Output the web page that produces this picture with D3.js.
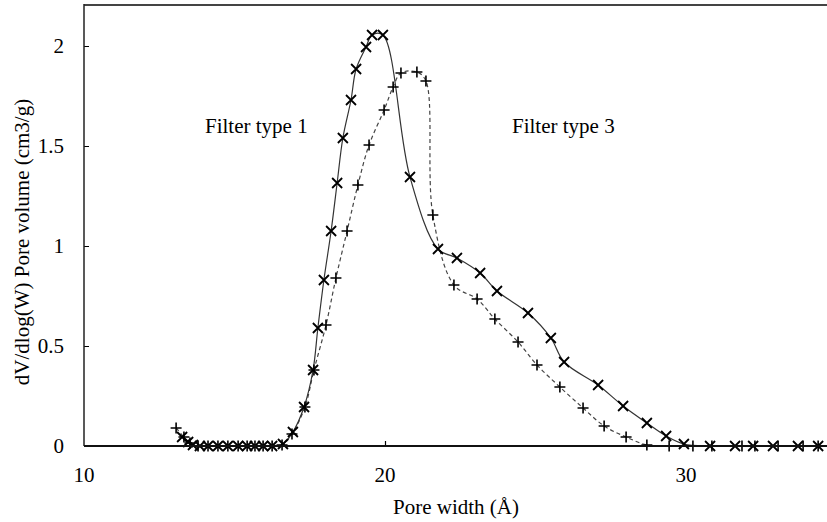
<!DOCTYPE html>
<html>
<head>
<meta charset="utf-8">
<script src="https://cdn.jsdelivr.net/npm/d3@7"></script>
<style>
  body { margin: 0; background: #fff; }
  text { font-family: "Liberation Serif", "Times New Roman", serif; fill: #000; }
</style>
</head>
<body>
<div id="chart"></div>
<script>
const WIDTH = 827;
const HEIGHT = 522;
const LEFT = 84, TOP = 5, RIGHT = 827, BOTTOM = 446;

// type 1 filter (x markers, solid line)
const type1X = [13.26, 13.46, 13.62, 13.85, 14.12, 14.45, 14.78, 15.12, 15.42, 15.68, 15.95, 16.25, 16.61, 16.94,
  17.31, 17.61, 17.77, 17.97, 18.21, 18.41, 18.60, 18.87, 19.04, 19.37, 19.57, 19.93, 20.83, 21.76, 22.39, 23.16,
  23.72, 24.75, 25.51, 25.95, 27.08, 27.91, 28.70, 29.34, 29.93, 30.80, 31.63, 32.23, 32.89, 33.72, 34.39];
const type1Y = [0.045, 0.02, 0.005, 0, 0, 0, 0, 0, 0, 0, 0, 0, 0.01, 0.07,
  0.195, 0.38, 0.59, 0.83, 1.075, 1.315, 1.54, 1.73, 1.885, 1.995, 2.055, 2.055, 1.345, 0.985, 0.94, 0.865,
  0.775, 0.665, 0.54, 0.42, 0.305, 0.2, 0.115, 0.05, 0.01, 0, 0, 0, 0, 0, 0];

// type 3 filter (+ markers, dashed line)
const type3X = [13.06, 13.32, 13.52, 13.79, 14.12, 14.45, 14.78, 15.12, 15.42, 15.68, 15.95, 16.25, 16.58, 16.91,
  17.34, 17.64, 18.04, 18.37, 18.74, 19.10, 19.47, 19.97, 20.27, 20.53, 21.06, 21.36, 21.59, 22.29, 23.06, 23.65,
  24.42, 25.05, 25.81, 26.58, 27.28, 28.01, 28.70, 29.44, 30.23, 30.86, 31.86, 32.29, 33.06, 33.89, 34.39];
const type3Y = [0.09, 0.045, 0.015, 0, 0, 0, 0, 0, 0, 0, 0, 0, 0.005, 0.06,
  0.195, 0.38, 0.605, 0.84, 1.075, 1.305, 1.505, 1.68, 1.795, 1.865, 1.87, 1.825, 1.155, 0.805, 0.735, 0.635,
  0.52, 0.405, 0.295, 0.19, 0.10, 0.045, 0.005, 0, 0, 0, 0, 0, 0, 0, 0];

const xTicks = [10, 20, 30];
const yTicks = [0, 0.5, 1, 1.5, 2];

const svg = d3.select("#chart").append("svg")
  .attr("width", WIDTH)
  .attr("height", HEIGHT);

const x = d3.scaleLinear().domain([10, 20]).range([LEFT, LEFT + 301]);
const y = d3.scaleLinear().domain([0, 2]).range([BOTTOM, BOTTOM - 400]);

const type1 = type1X.map((d, i) => [d, type1Y[i]]);
const type3 = type3X.map((d, i) => [d, type3Y[i]]);

const line = d3.line()
  .x(d => x(d[0]))
  .y(d => y(d[1]))
  .curve(d3.curveCatmullRom.alpha(0.5));

// lines
svg.append("path")
  .attr("d", line(type3))
  .attr("fill", "none")
  .attr("stroke", "#444")
  .attr("stroke-width", 1.2)
  .attr("stroke-dasharray", "4,3");

svg.append("path")
  .attr("d", line(type1))
  .attr("fill", "none")
  .attr("stroke", "#333")
  .attr("stroke-width", 1.2);

// markers
const s = 5;
svg.append("g").selectAll("path")
  .data(type3)
  .enter()
  .append("path")
  .attr("d", d => `M${x(d[0]) - s - 0.5},${y(d[1])}h${2 * s + 1}M${x(d[0])},${y(d[1]) - s - 0.5}v${2 * s + 1}`)
  .attr("stroke", "#000")
  .attr("stroke-width", 1.6);

svg.append("g").selectAll("path")
  .data(type1)
  .enter()
  .append("path")
  .attr("d", d => `M${x(d[0]) - s},${y(d[1]) - s}l${2 * s},${2 * s}M${x(d[0]) - s},${y(d[1]) + s}l${2 * s},${-2 * s}`)
  .attr("stroke", "#000")
  .attr("stroke-width", 1.8);

// frame
svg.append("line")
  .attr("x1", LEFT).attr("x2", RIGHT)
  .attr("y1", TOP).attr("y2", TOP)
  .attr("stroke", "#444").attr("stroke-width", 2);

// axes
const yAxis = d3.axisRight(y).tickValues(yTicks).tickSize(5).tickFormat("");
svg.append("g")
  .attr("transform", `translate(${LEFT},0)`)
  .call(yAxis)
  .call(g => g.select(".domain").remove())
  .call(g => g.selectAll(".tick line").attr("stroke", "#000").attr("stroke-width", 1));

svg.append("line")
  .attr("x1", LEFT).attr("x2", LEFT)
  .attr("y1", TOP - 1).attr("y2", BOTTOM)
  .attr("stroke", "#222").attr("stroke-width", 1.5);

svg.append("g").selectAll("text")
  .data(yTicks)
  .enter()
  .append("text")
  .attr("x", LEFT - 20)
  .attr("y", d => y(d) + 7)
  .attr("text-anchor", "end")
  .attr("font-size", 21)
  .text(d => d);

const xAxis = d3.axisTop(x).tickValues([20]).tickSize(5).tickFormat("");
svg.append("g")
  .attr("transform", `translate(0,${BOTTOM})`)
  .call(xAxis)
  .call(g => g.select(".domain").remove())
  .call(g => g.selectAll(".tick line").attr("stroke", "#000").attr("stroke-width", 1.2));

svg.append("line")
  .attr("x1", LEFT).attr("x2", RIGHT)
  .attr("y1", BOTTOM).attr("y2", BOTTOM)
  .attr("stroke", "#111").attr("stroke-width", 2);

svg.append("g").selectAll("text")
  .data(xTicks)
  .enter()
  .append("text")
  .attr("x", d => x(d))
  .attr("y", BOTTOM + 36)
  .attr("text-anchor", "middle")
  .attr("font-size", 21)
  .text(d => d);

// titles
svg.append("text")
  .attr("x", 456)
  .attr("y", 514)
  .attr("text-anchor", "middle")
  .attr("font-size", 21)
  .text("Pore width (Å)");

svg.append("text")
  .attr("transform", "translate(29,242) rotate(-90)")
  .attr("text-anchor", "middle")
  .attr("font-size", 21)
  .text("dV/dlog(W) Pore volume (cm3/g)");

// annotations
svg.append("text")
  .attr("x", 205)
  .attr("y", 133)
  .attr("font-size", 21)
  .text("Filter type 1");

svg.append("text")
  .attr("x", 512)
  .attr("y", 133)
  .attr("font-size", 21)
  .text("Filter type 3");
</script>
</body>
</html>
